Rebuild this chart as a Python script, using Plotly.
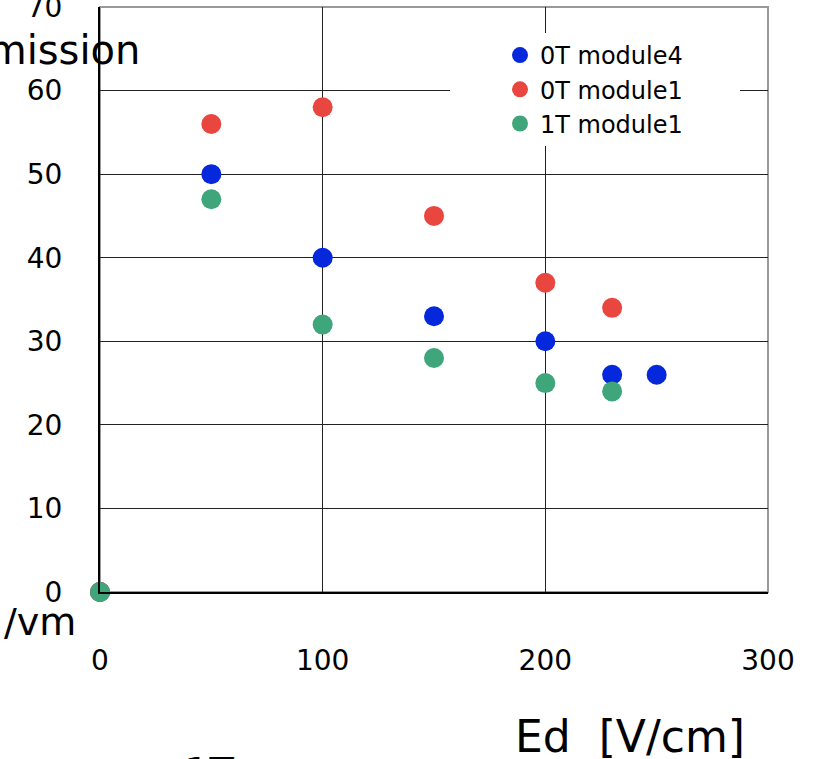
import plotly.graph_objects as go

ed_m4 = [0, 50, 100, 150, 200, 230, 250]
val_m4 = [0, 50, 40, 33, 30, 26, 26]
ed_0t1 = [0, 50, 100, 150, 200, 230]
val_0t1 = [0, 56, 58, 45, 37, 34]
ed_1t1 = [0, 50, 100, 150, 200, 230]
val_1t1 = [0, 47, 32, 28, 25, 24]

names = ["0T module4", "0T module1", "1T module1"]
colors = ["#0628dc", "#e8463f", "#3fa57a"]

fig = go.Figure()
for i, (xs, ys) in enumerate([(ed_m4, val_m4), (ed_0t1, val_0t1), (ed_1t1, val_1t1)]):
    fig.add_trace(go.Scatter(x=xs, y=ys, mode="markers", name=names[i],
                             legendgroup=names[i],
                             marker=dict(size=20, color=colors[i]),
                             cliponaxis=False))

fig.add_shape(type="rect", xref="paper", yref="paper",
              x0=(450 - 100) / 668, x1=(740 - 100) / 668,
              y0=(592 - 146) / 585, y1=(592 - 33) / 585,
              fillcolor="white", line=dict(width=0), layer="above")
fig.add_shape(type="rect", xref="paper", yref="paper", x0=0, x1=1, y0=0, y1=1,
              line=dict(color="#999999", width=2), layer="below")

tick_font = dict(family="DejaVu Sans, sans-serif", size=28, color="black")
fig.update_layout(
    width=821, height=759,
    margin=dict(l=100, r=53, t=7, b=167),
    paper_bgcolor="white", plot_bgcolor="white",
    showlegend=True,
    legend=dict(x=(500 - 100) / 668, y=(592 - 33) / 585, xanchor="left", yanchor="top",
                bgcolor="rgba(0,0,0,0)", font=dict(family="DejaVu Sans, sans-serif", size=24, color="black"),
                tracegroupgap=0, itemsizing="trace"),
    xaxis=dict(range=[0, 300], dtick=100, showgrid=True, gridcolor="#222222", gridwidth=1,
               showline=True, linecolor="black", linewidth=2, zeroline=False,
               tickfont=tick_font, ticks="", ticklabelstandoff=42, automargin=False,
               ticklabeloverflow="allow"),
    yaxis=dict(range=[0, 70], dtick=10, showgrid=True, gridcolor="#222222", gridwidth=1,
               showline=True, linecolor="black", linewidth=2, zeroline=False,
               tickfont=tick_font, ticks="", ticklabelstandoff=30, automargin=False,
               ticklabeloverflow="allow"),
    annotations=[
        dict(text="Transmission", xref="paper", yref="paper", x=(142 - 100) / 668,
             y=(592 - 50) / 585, xanchor="right", yanchor="middle", showarrow=False,
             font=dict(family="DejaVu Sans, sans-serif", size=40, color="black")),
        dict(text="/vm", xref="paper", yref="paper", x=(78 - 100) / 668,
             y=(592 - 622) / 585, xanchor="right", yanchor="middle", showarrow=False,
             font=dict(family="DejaVu Sans, sans-serif", size=38, color="black")),
        dict(text="Ed  [V/cm]", xref="paper", yref="paper", x=(747 - 100) / 668,
             y=(592 - 736) / 585, xanchor="right", yanchor="middle", showarrow=False,
             font=dict(family="DejaVu Sans, sans-serif", size=44, color="black")),
        dict(text="1T", xref="paper", yref="paper", x=(182 - 100) / 668,
             y=(592 - 748) / 585, xanchor="left", yanchor="top", showarrow=False,
             font=dict(family="DejaVu Sans, sans-serif", size=40, color="black")),
    ],
)

fig.write_html("out.html", post_script="document.body.style.margin='0px';",
               config={"displayModeBar": False})
